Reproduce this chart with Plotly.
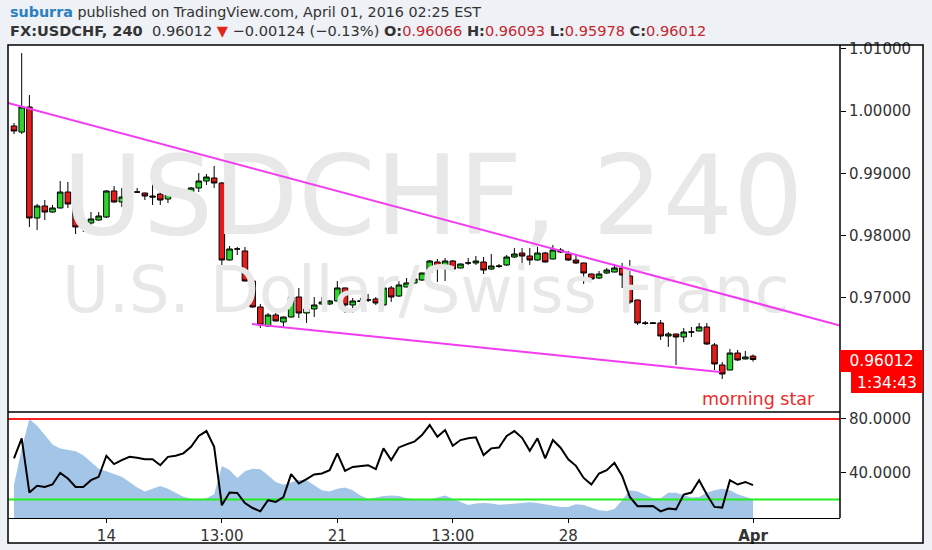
import plotly.graph_objects as go

# ---------------- data ----------------
bar_index = list(range(97))
opens = [0.99760, 0.99663, 1.00065, 0.98283, 0.98476, 0.98379, 0.98444, 0.98700, 0.98508, 0.98150,
         0.98203, 0.98251, 0.98299, 0.98717, 0.98540, 0.98620, 0.98700, 0.98684, 0.98636, 0.98668,
         0.98588, 0.98676, 0.98684, 0.98700, 0.98765, 0.98877, 0.98925, 0.98845, 0.97609, 0.97786,
         0.97754, 0.97272, 0.96855, 0.96550, 0.96726, 0.96614, 0.96694, 0.97015, 0.96758, 0.96823,
         0.96903, 0.96903, 0.96951, 0.97160, 0.96887, 0.96943, 0.96967, 0.96983, 0.96887, 0.97160,
         0.97031, 0.97176, 0.97240, 0.97288, 0.97416, 0.97577, 0.97481, 0.97593, 0.97481, 0.97561,
         0.97561, 0.97577, 0.97464, 0.97505, 0.97529, 0.97657, 0.97721, 0.97673, 0.97609, 0.97721,
         0.97625, 0.97770, 0.97705, 0.97609, 0.97561, 0.97384, 0.97320, 0.97400, 0.97416, 0.97481,
         0.97352, 0.96967, 0.96590, 0.96590, 0.96598, 0.96389, 0.96421, 0.96373, 0.96453, 0.96469,
         0.96534, 0.96245, 0.95924, 0.95843, 0.96116, 0.96020, 0.96066]
highs = [0.99808, 1.00931, 1.00257, 0.98508, 0.98572, 0.98492, 0.98877, 0.98861, 0.98604, 0.98315,
         0.98379, 0.98379, 0.98730, 0.98797, 0.98765, 0.98781, 0.98765, 0.98690, 0.98893, 0.98941,
         0.98813, 0.98732, 0.98716, 0.98781, 0.99005, 0.98989, 0.99118, 0.98861, 0.97834, 0.97818,
         0.97818, 0.97320, 0.96903, 0.96758, 0.96758, 0.96700, 0.97031, 0.97160, 0.96887, 0.97015,
         0.97015, 0.96967, 0.97272, 0.97165, 0.96999, 0.96999, 0.97063, 0.97015, 0.97240, 0.97192,
         0.97272, 0.97320, 0.97336, 0.97405, 0.97609, 0.97625, 0.97641, 0.97609, 0.97550, 0.97641,
         0.97673, 0.97657, 0.97705, 0.97545, 0.97689, 0.97802, 0.97802, 0.97802, 0.97850, 0.97737,
         0.97850, 0.97802, 0.97754, 0.97689, 0.97565, 0.97390, 0.97432, 0.97481, 0.97545, 0.97561,
         0.97609, 0.96972, 0.96630, 0.96614, 0.96646, 0.96453, 0.96425, 0.96518, 0.96534, 0.96598,
         0.96598, 0.96277, 0.95972, 0.96181, 0.96165, 0.96149, 0.96093]
lows = [0.99631, 0.99631, 0.98139, 0.98091, 0.98251, 0.98370, 0.98435, 0.98444, 0.98026, 0.98058,
        0.98139, 0.98240, 0.98283, 0.98530, 0.98460, 0.98604, 0.98684, 0.98572, 0.98492, 0.98492,
        0.98524, 0.98636, 0.98636, 0.98684, 0.98700, 0.98813, 0.98765, 0.97497, 0.97600, 0.97689,
        0.97265, 0.96845, 0.96518, 0.96534, 0.96625, 0.96534, 0.96685, 0.96678, 0.96598, 0.96694,
        0.96887, 0.96887, 0.96945, 0.96758, 0.96758, 0.96919, 0.96935, 0.96887, 0.96880, 0.96935,
        0.97015, 0.97170, 0.97224, 0.97272, 0.97410, 0.97256, 0.97272, 0.97448, 0.97475, 0.97529,
        0.97529, 0.97384, 0.97448, 0.97481, 0.97513, 0.97641, 0.97561, 0.97529, 0.97600, 0.97570,
        0.97620, 0.97721, 0.97593, 0.97545, 0.97224, 0.97300, 0.97304, 0.97384, 0.97410, 0.97160,
        0.96903, 0.96566, 0.96566, 0.96582, 0.96325, 0.96213, 0.95924, 0.96293, 0.96373, 0.96465,
        0.96245, 0.95843, 0.95699, 0.95840, 0.95988, 0.96015, 0.95978]
closes = [0.99679, 1.00065, 0.98283, 0.98476, 0.98379, 0.98444, 0.98700, 0.98508, 0.98139, 0.98150,
          0.98267, 0.98315, 0.98717, 0.98540, 0.98620, 0.98700, 0.98700, 0.98636, 0.98620, 0.98572,
          0.98684, 0.98684, 0.98684, 0.98765, 0.98877, 0.98941, 0.98845, 0.97609, 0.97786, 0.97786,
          0.97272, 0.96855, 0.96566, 0.96726, 0.96630, 0.96694, 0.97015, 0.96758, 0.96823, 0.96887,
          0.96935, 0.96951, 0.97160, 0.96887, 0.96951, 0.96951, 0.96967, 0.96919, 0.97160, 0.97015,
          0.97208, 0.97240, 0.97304, 0.97400, 0.97593, 0.97481, 0.97593, 0.97464, 0.97545, 0.97561,
          0.97593, 0.97448, 0.97513, 0.97513, 0.97657, 0.97705, 0.97673, 0.97609, 0.97721, 0.97577,
          0.97770, 0.97737, 0.97609, 0.97561, 0.97400, 0.97304, 0.97384, 0.97448, 0.97481, 0.97368,
          0.96935, 0.96598, 0.96598, 0.96598, 0.96389, 0.96421, 0.96373, 0.96453, 0.96453, 0.96534,
          0.96261, 0.95940, 0.95779, 0.96116, 0.96004, 0.96052, 0.96012]

stoch_line = [50.6, 65.6, 25.2, 30.2, 29.4, 31.2, 39.9, 35.7, 29.4, 29.4,
              34.4, 36.9, 52.6, 46.4, 49.4, 51.8, 51.1, 50.1, 50.1, 45.6,
              51.8, 52.6, 54.4, 59.3, 67.3, 71.0, 59.3, 15.7, 25.2, 24.9,
              17.4, 13.7, 11.2, 19.5, 18.2, 21.9, 38.9, 32.0, 35.2, 38.7,
              39.4, 41.9, 54.4, 41.4, 44.3, 45.1, 45.6, 42.6, 58.1, 49.4,
              58.8, 61.1, 63.1, 68.0, 75.5, 66.8, 71.8, 60.0, 64.3, 65.6,
              66.3, 53.1, 58.1, 58.8, 67.3, 71.0, 66.0, 56.3, 65.6, 50.6,
              64.3, 58.6, 49.9, 45.1, 36.1, 31.2, 39.4, 41.9, 47.3, 37.6,
              21.9, 15.0, 15.0, 15.2, 11.2, 13.3, 12.7, 23.7, 25.2, 34.4,
              23.7, 14.5, 14.0, 34.4, 31.2, 33.1, 30.7]
area_values = [31, 58, 80, 75, 68, 61, 58, 57, 56, 53,
               48, 43, 41, 39, 37, 33, 29, 26, 28, 30,
               28, 25, 22, 20.5, 20, 21, 24, 45, 42, 36,
               41, 43, 42.5, 38, 33, 31, 33, 34.5, 34.4, 31,
               27, 26, 28, 29, 27, 23, 20.5, 21.5, 22.7, 23,
               22.7, 21, 20, 19.5, 20, 21.5, 23, 20.5, 18, 16,
               17, 17.5, 17, 16.2, 16.5, 17, 17.5, 18, 17.5, 16.5,
               15.5, 14.5, 14.5, 16.5, 16, 14, 12, 11.5, 13, 19.5,
               27, 26, 23.5, 21, 21, 25, 25, 23, 21.5, 21.9,
               25, 27, 28, 27, 24, 22, 20.2]
stoch_levels = [80, 20]

upper_trend_x = [-0.78, 107.3]
upper_trend_y = [1.00129, 0.96558]
lower_trend_x = [30.9, 91.7]
lower_trend_y = [0.96582, 0.95811]

tick_positions = [12, 27, 42, 57, 72, 96]
tick_labels = ["14", "13:00", "21", "13:00", "28", "<b>Apr</b>"]
price_ticks = [0.97, 0.98, 0.99, 1.00, 1.01]
osc_ticks = [40, 80]
last_price = 0.96012

X_RANGE = [-0.78, 107.3]
FONT = "DejaVu Sans"
GREEN = "#2ad42a"
RED = "#e41c1c"
BG = "#eef1f5"

fig = go.Figure()

# watermark (drawn first so it stays beneath the candles)
fig.add_trace(go.Scatter(x=[54.4], y=[0.98475], mode="text", text=["USDCHF, 240"],
                         textposition="middle center",
                         textfont=dict(family=FONT, size=110.5, color="#e8e8e8"),
                         hoverinfo="skip", showlegend=False, xaxis="x", yaxis="y"))
fig.add_trace(go.Scatter(x=[53.5], y=[0.97030], mode="text", text=["U.S. Dollar/Swiss Franc"],
                         textposition="middle center",
                         textfont=dict(family=FONT, size=63.7, color="#e8e8e8"),
                         hoverinfo="skip", showlegend=False, xaxis="x", yaxis="y"))

fig.add_trace(go.Candlestick(
    x=bar_index, open=opens, high=highs, low=lows, close=closes,
    increasing=dict(fillcolor=GREEN, line=dict(color="black", width=1)),
    decreasing=dict(fillcolor=RED, line=dict(color="black", width=1)),
    whiskerwidth=0, showlegend=False, xaxis="x", yaxis="y"))

fig.add_trace(go.Scatter(x=upper_trend_x, y=upper_trend_y, mode="lines",
                         line=dict(color="#f23cf2", width=2), showlegend=False,
                         xaxis="x", yaxis="y"))
fig.add_trace(go.Scatter(x=lower_trend_x, y=lower_trend_y, mode="lines",
                         line=dict(color="#f23cf2", width=2), showlegend=False,
                         xaxis="x", yaxis="y"))

# lower pane
fig.add_trace(go.Scatter(x=bar_index, y=area_values, mode="lines", fill="tozeroy",
                         fillcolor="#a2c5e8", line=dict(color="#a2c5e8", width=0),
                         showlegend=False, xaxis="x2", yaxis="y2"))
level_colors = ["#ff1f1f", "#22ee22"]
for lv, col in zip(stoch_levels, level_colors):
    fig.add_trace(go.Scatter(x=X_RANGE, y=[lv, lv], mode="lines",
                             line=dict(color=col, width=2), showlegend=False,
                             xaxis="x2", yaxis="y2"))
fig.add_trace(go.Scatter(x=bar_index, y=stoch_line, mode="lines",
                         line=dict(color="black", width=2), showlegend=False,
                         xaxis="x2", yaxis="y2"))

SPLIT = 0.2241
RIGHT = 1.0998
BOTTOM = -0.0529
TICKFONT = dict(family=FONT, size=15, color="#333333")

fig.update_layout(
    width=932, height=550, autosize=False,
    margin=dict(l=8, r=92, t=45, b=32),
    paper_bgcolor=BG, plot_bgcolor="white",
    font=dict(family=FONT, size=15, color="#333333"),
    showlegend=False, hovermode=False, boxgap=0.28, boxgroupgap=0,
    xaxis=dict(domain=[0, 1], anchor="y", range=X_RANGE, showticklabels=False,
               ticks="", showgrid=False, zeroline=False, showline=False,
               rangeslider=dict(visible=False), automargin=False),
    xaxis2=dict(domain=[0, 1], anchor="y2", range=X_RANGE, tickvals=tick_positions,
                ticktext=tick_labels, ticks="outside", ticklen=4, tickcolor="black",
                showgrid=False, zeroline=False, showline=True, linecolor="black",
                linewidth=1, tickfont=TICKFONT, automargin=False),
    yaxis=dict(domain=[SPLIT, 1], anchor="x", side="right", range=[0.95169, 1.0106],
               tickvals=price_ticks, tickformat=".5f", ticks="outside", ticklen=5,
               tickcolor="black", showgrid=False, zeroline=False, showline=False,
               tickfont=TICKFONT, automargin=False),
    yaxis2=dict(domain=[0, SPLIT], anchor="x2", side="right", range=[6.25, 85.2],
                tickvals=osc_ticks, tickformat=".4f", ticks="outside", ticklen=5,
                tickcolor="black", showgrid=False, zeroline=False, showline=False,
                tickfont=TICKFONT, automargin=False),
)

shapes = [
    dict(type="rect", xref="paper", yref="paper", x0=0, x1=RIGHT, y0=BOTTOM, y1=1,
         fillcolor="white", line=dict(width=0), layer="below"),
    dict(type="rect", xref="paper", yref="paper", x0=0, x1=RIGHT, y0=BOTTOM, y1=1,
         fillcolor="rgba(0,0,0,0)", line=dict(color="black", width=1.5)),
    dict(type="line", xref="paper", yref="paper", x0=1, x1=1, y0=0, y1=1,
         line=dict(color="black", width=1.5)),
    dict(type="line", xref="paper", yref="paper", x0=0, x1=1, y0=SPLIT, y1=SPLIT,
         line=dict(color="black", width=1.5)),
]
fig.update_layout(shapes=shapes)

val = "#c4262e"
line2 = ("<b>FX:USDCHF, 240</b>  0.96012 <span style='color:#e0251b'>▼</span> "
         "−0.00124 (−0.13%) "
         f"<b>O:</b><span style='color:{val}'>0.96066</span> "
         f"<b>H:</b><span style='color:{val}'>0.96093</span> "
         f"<b>L:</b><span style='color:{val}'>0.95978</span> "
         f"<b>C:</b><span style='color:{val}'>0.96012</span>")
annotations = [
    dict(xref="paper", yref="paper", x=0, y=1.0698, xanchor="left", yanchor="middle",
         showarrow=False, align="left",
         text="<b><span style='color:#2a7fc0'>suburra</span></b> published on TradingView.com, April 01, 2016 02:25 EST",
         font=dict(family=FONT, size=14.3, color="#333333")),
    dict(xref="paper", yref="paper", x=0, y=1.0317, xanchor="left", yanchor="middle",
         showarrow=False, align="left", text=line2,
         font=dict(family=FONT, size=14.55, color="#333333")),
    dict(xref="paper", yref="paper", x=0.9026, y=0.2516, xanchor="center", yanchor="middle",
         showarrow=False, text="morning star",
         font=dict(family=FONT, size=17.5, color="#ee2a2a")),
    dict(xref="paper", yref="paper", x=1.0, y=0.3319, xanchor="left", yanchor="middle",
         showarrow=False, text=f"{last_price:.5f}", bgcolor="#ff0000", width=83, height=22,
         borderpad=0, borderwidth=0, align="center",
         font=dict(family=FONT, size=15.5, color="white")),
    dict(xref="paper", yref="paper", x=RIGHT, y=0.2865, xanchor="right", yanchor="middle",
         showarrow=False, text="1:34:43", bgcolor="#ff0000", width=72, height=21,
         borderpad=0, borderwidth=0, align="center",
         font=dict(family=FONT, size=15.5, color="white")),
]
fig.update_layout(annotations=annotations)

fig.write_html("out.html", config={"displayModeBar": False},
               post_script="document.body.style.margin='0px';"
                           "document.body.style.background='%s';" % BG)
